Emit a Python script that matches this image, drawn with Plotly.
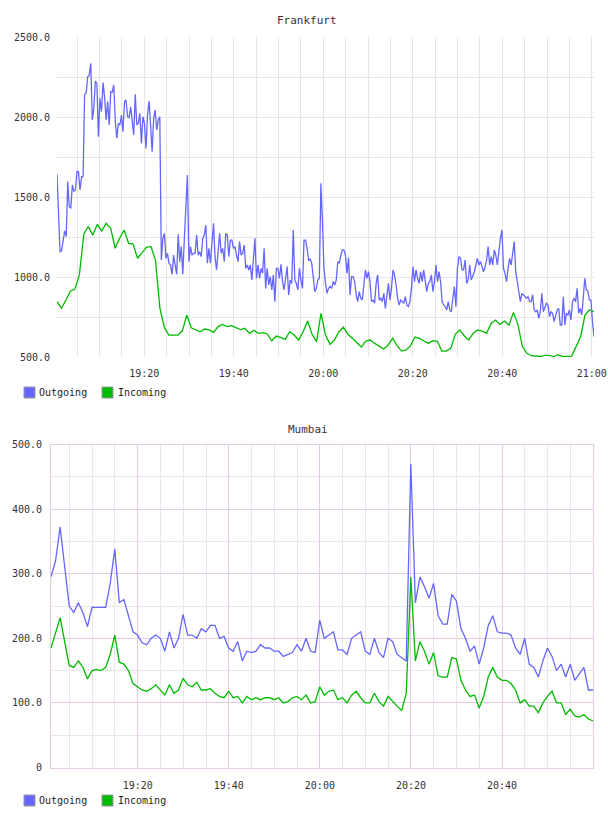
import plotly.graph_objects as go
import pandas as pd

# ---------------- data ----------------
series_names = ["Outgoing", "Incoming"]
chart_titles = ["Frankfurt", "Mumbai"]

frankfurt_out = [
    1642, 1367, 1158, 1163, 1242, 1288, 1252, 1596, 1440, 1429,
    1575, 1537, 1544, 1658, 1658, 1544, 1627, 1627, 2142, 2148,
    2252, 2262, 2335, 1981, 2054, 2225, 2210, 1877, 2117, 2033,
    2215, 2127, 1981, 2096, 1950, 2158, 2154, 2200, 1971, 1867,
    1960, 1950, 2012, 1908, 2096, 2106, 2002, 1996, 2064, 1975,
    1888, 2142, 1954, 1960, 2023, 1835, 2002, 1960, 1804, 2012,
    2100, 1950, 1783, 1992, 2044, 1919, 1981, 2002, 1106, 1242,
    1273, 1117, 1148, 1086, 1075, 1017, 1137, 1075, 1017, 1267,
    1096, 1190, 1017, 1242, 1419,
    1638, 1096, 1190, 1137, 1148, 1148, 1262, 1137, 1158, 1127,
    1242, 1262, 1325, 1086, 1179, 1086, 1231, 1335, 1127, 1044,
    1158, 1273, 1148, 1179, 1096, 1273, 1262, 1127, 1231, 1231,
    1179, 1190, 1137, 1096, 1221, 1137, 1148, 1200, 1054, 1075,
    1044, 1075, 981, 1137, 1242, 992, 1075, 992, 1054, 1023,
    1179, 929, 1054, 950, 1002, 919, 1013, 846, 1054, 1054,
    992, 1079, 971, 919, 1013, 1065, 888, 981, 960, 1294,
    981, 960, 919, 1054, 981, 929, 1231, 1231, 1179, 1106,
    1112, 1086, 1002, 908, 929, 981, 992, 1586, 1346,
    1054, 960, 898, 929, 940, 929, 971, 950, 981, 1096,
    1086, 1137, 1169, 1169, 1137, 1023, 1121, 888, 1002, 1002,
    971, 888, 846, 908, 867, 856, 960, 1044, 992, 1033,
    971, 846, 856, 836, 960, 1013, 856, 867, 846, 898,
    804, 867, 960, 856, 929, 1044, 1013, 950, 867, 825,
    856, 846, 836, 877, 825, 815, 846, 929, 1065, 971,
    1044, 992, 960, 1033, 971, 1044, 960, 908, 960, 971,
    1013, 908, 971, 1075, 971, 1033, 971, 846, 825, 815,
    794, 846, 794, 783, 867, 940, 815, 1054,
    1127, 1117, 1044, 1044, 1106, 960, 981, 1075, 981, 1002,
    1033, 1075, 1117, 1075, 1096, 1065, 1033, 1065, 1106, 1190,
    1075, 1127, 1075, 1169, 1137, 1075, 1179, 1242, 1294, 1054,
    1023, 971, 1054, 1117, 1075, 1137, 1221, 1033, 971, 908,
    846, 898, 888, 877, 867, 877, 846, 846, 888, 794,
    783, 794, 742, 783, 898, 783, 804, 836, 825, 752,
    783, 773, 721, 763, 794, 804, 700, 700, 877, 700,
    773, 763, 794, 731, 846, 867, 846, 929, 773, 804,
    763, 867, 992, 919, 913, 856, 856, 721, 627,
]

frankfurt_in = [
    846, 804, 856, 913, 925, 1013, 1269, 1315, 1262, 1329,
    1288, 1335, 1304, 1179, 1242, 1294, 1210, 1206, 1117, 1154,
    1187, 1190, 1106, 804, 685, 637, 637, 637, 662, 763, 683,
    669, 658, 675, 669, 654, 690, 704, 690, 696, 683,
    671, 679, 648, 667, 648, 652, 644, 600, 631, 621,
    610, 658, 637, 606, 658, 725, 642, 596, 773, 637,
    579, 606, 658, 687, 642, 617, 592, 562, 600, 606,
    585, 565, 550, 575, 617, 571, 537, 544, 571, 625,
    617, 600, 585, 602, 598, 537, 537, 554, 642, 669,
    633, 606, 648, 669, 662, 648, 710, 731, 704, 725,
    700, 779, 704, 565, 523, 508, 505, 503, 510, 510,
    503, 515, 502, 506, 506, 565, 627, 763, 794, 783,
]

mumbai_out = [
    295, 320, 372, 315, 250, 240, 255, 240, 218, 248,
    248, 248, 248, 285, 338, 255, 260, 235, 210, 205,
    193, 190, 200, 205, 200, 180, 210, 185, 200, 237,
    205, 205, 200, 215, 210, 220, 220, 200, 203, 185,
    180, 195, 165, 180, 178, 180, 190, 185, 185, 180,
    180, 172, 175, 178, 190, 180, 200, 180, 178, 228,
    200, 205, 210, 182, 182, 175, 200, 205, 210, 180,
    175, 200, 178, 170, 200, 195, 175, 170, 165, 470,
    255, 295, 280, 262, 285, 235, 222, 222, 268, 258,
    215, 200, 180, 188, 160, 185, 220, 235, 210, 208,
    208, 205, 185, 175, 200, 160, 155, 140, 165, 185,
    172, 150, 160, 140, 160, 135, 145, 155, 120, 120,
]

mumbai_in = [
    185, 210, 232, 195, 158, 155, 165, 155, 137, 150,
    152, 150, 155, 175, 205, 163, 160, 150, 130, 125,
    120, 118, 122, 128, 120, 112, 128, 115, 120, 138,
    128, 125, 132, 120, 120, 122, 115, 110, 108, 118,
    108, 110, 100, 110, 105, 108, 105, 108, 108, 105,
    108, 100, 102, 108, 110, 105, 112, 100, 102, 125,
    112, 118, 120, 105, 108, 100, 112, 118, 108, 100,
    100, 115, 102, 95, 110, 102, 95, 88, 115, 295,
    165, 195, 180, 160, 178, 142, 140, 140, 170, 168,
    135, 120, 110, 112, 92, 110, 140, 155, 140, 135,
    135, 130, 120, 100, 105, 95, 95, 85, 100, 110,
    118, 100, 100, 82, 90, 80, 78, 82, 75, 72,
]

frankfurt_span = ["2013-06-01 19:00:30", "2013-06-01 21:00:30"]
mumbai_span = ["2013-06-01 19:00:58", "2013-06-01 20:59:58"]

frankfurt_yticks = [500, 1000, 1500, 2000, 2500]
frankfurt_ytext = ["500.0", "1000.0", "1500.0", "2000.0", "2500.0"]
mumbai_yticks = [0, 100, 200, 300, 400, 500]
mumbai_ytext = ["0", "100.0", "200.0", "300.0", "400.0", "500.0"]

# ---------------- styling ----------------
W, H = 608, 816
BLUE = "#6666ff"
GREEN = "#00bb00"
FONT = "DejaVu Sans Mono"
TXT = "#333333"
GRID = "#e6e6e6"
PINK = "#e3cce3"
MINOR_PINK = "#ebe6eb"

fra_out_t = pd.date_range(frankfurt_span[0], frankfurt_span[1], periods=len(frankfurt_out))
fra_in_t = pd.date_range(frankfurt_span[0], frankfurt_span[1], periods=len(frankfurt_in))
mum_out_t = pd.date_range(mumbai_span[0], mumbai_span[1], periods=len(mumbai_out))
mum_in_t = pd.date_range(mumbai_span[0], mumbai_span[1], periods=len(mumbai_in))

fig = go.Figure()


def line(x, y, color, xa, ya, name):
    fig.add_trace(go.Scatter(x=x, y=y, mode="lines", xaxis=xa, yaxis=ya, name=name,
                             line=dict(color=color, width=1.3), showlegend=False))


line(fra_in_t, frankfurt_in, GREEN, "x", "y", series_names[1])
line(fra_out_t, frankfurt_out, BLUE, "x", "y", series_names[0])
line(mum_in_t, mumbai_in, GREEN, "x2", "y2", series_names[1])
line(mum_out_t, mumbai_out, BLUE, "x2", "y2", series_names[0])

tickfont = dict(family=FONT, size=10, color=TXT)
five_min = 5 * 60 * 1000
twenty_min = 20 * 60 * 1000

# legend rows (swatch + label) under each chart
shapes, annotations = [], []
for row_y in (392.5, 800.5):
    for (sx, tx), name, col in zip([(24, 37), (102, 116)], series_names, [BLUE, GREEN]):
        shapes.append(dict(type="rect", xref="paper", yref="paper",
                           x0=sx / W, x1=(sx + 11) / W,
                           y0=1 - (row_y + 5.5) / H, y1=1 - (row_y - 5.5) / H,
                           fillcolor=col, line=dict(color="#999999", width=1)))
        annotations.append(dict(text=name, x=tx / W, y=1 - row_y / H, xref="paper", yref="paper",
                                xanchor="left", yanchor="middle", showarrow=False,
                                font=dict(family=FONT, size=10, color="#222222")))

for title, (cx, cy) in zip(chart_titles, [(307, 20), (308, 429)]):
    annotations.append(dict(text=title, x=cx / W, y=1 - cy / H, xref="paper", yref="paper",
                            xanchor="center", yanchor="middle", showarrow=False,
                            font=dict(family=FONT, size=11, color=TXT)))

fig.update_layout(
    width=W, height=H, margin=dict(l=0, r=0, t=0, b=0, autoexpand=False),
    paper_bgcolor="white", plot_bgcolor="white", showlegend=False,
    font=dict(family=FONT, size=10, color=TXT),
    xaxis=dict(domain=[57 / W, 594 / W], type="date", range=frankfurt_span,
               tickformat="%H:%M", dtick=twenty_min, tick0="2013-06-01 19:00",
               showgrid=True, gridcolor=GRID, gridwidth=1,
               minor=dict(dtick=five_min, showgrid=True, gridcolor=GRID, gridwidth=1),
               showline=False, zeroline=False, ticks="", tickfont=tickfont,
               ticklabelstandoff=9, anchor="y"),
    yaxis=dict(domain=[1 - 357 / H, 1 - 37 / H], range=[500, 2500],
               tickvals=frankfurt_yticks, ticktext=frankfurt_ytext,
               showgrid=False,
               minor=dict(dtick=250, tick0=0, showgrid=True, gridcolor=GRID, gridwidth=1),
               showline=False, zeroline=False, ticks="", tickfont=tickfont,
               ticklabelstandoff=6, anchor="x"),
    xaxis2=dict(domain=[51 / W, 593 / W], type="date", range=mumbai_span,
                tickformat="%H:%M", dtick=twenty_min, tick0="2013-06-01 19:00",
                showgrid=True, gridcolor=PINK, gridwidth=1,
                minor=dict(dtick=five_min, showgrid=True, gridcolor=MINOR_PINK, gridwidth=1),
                showline=True, mirror=True, linecolor=PINK, linewidth=1,
                zeroline=False, ticks="", tickfont=tickfont,
                ticklabelstandoff=8, anchor="y2"),
    yaxis2=dict(domain=[1 - 767.5 / H, 1 - 444.5 / H], range=[0, 500],
                tickvals=mumbai_yticks, ticktext=mumbai_ytext,
                showgrid=True, gridcolor=PINK, gridwidth=1,
                minor=dict(dtick=50, tick0=0, showgrid=True, gridcolor=MINOR_PINK, gridwidth=1),
                showline=True, mirror=True, linecolor=PINK, linewidth=1,
                zeroline=False, ticks="", tickfont=tickfont,
                ticklabelstandoff=6, anchor="x2"),
    shapes=shapes,
    annotations=annotations,
)

fig.write_html("out.html")
